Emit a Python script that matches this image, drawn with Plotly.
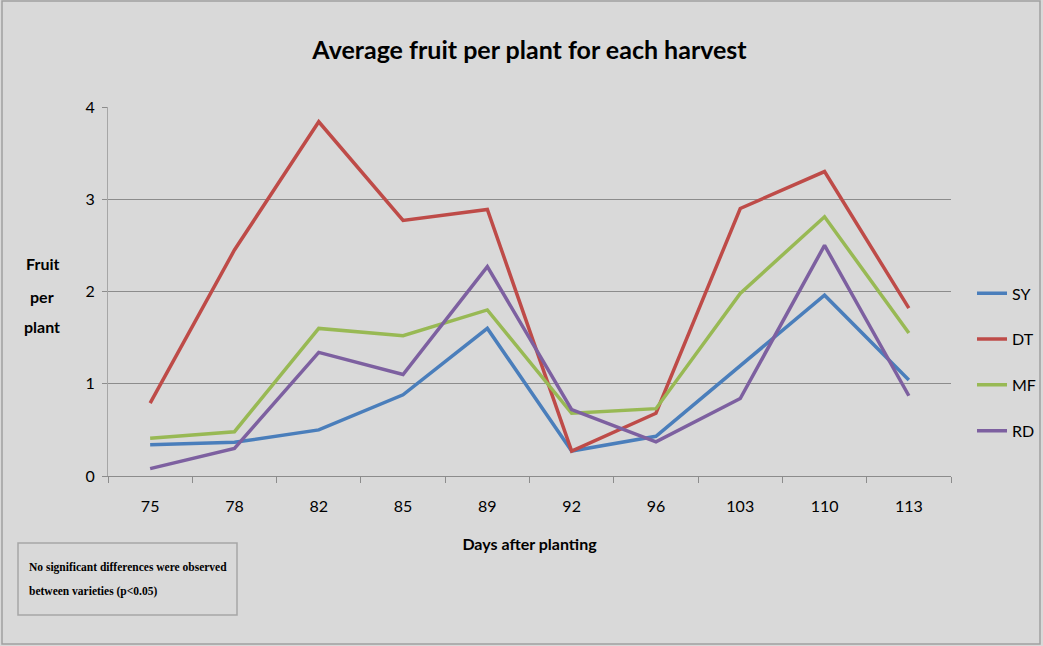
import plotly.graph_objects as go

# Harvest days (category axis) and mean fruit per plant for each variety
days = ["75", "78", "82", "85", "89", "92", "96", "103", "110", "113"]
sy = [0.34, 0.365, 0.50, 0.88, 1.60, 0.27, 0.43, 1.20, 1.96, 1.04]
dt = [0.79, 2.45, 3.84, 2.77, 2.89, 0.27, 0.68, 2.90, 3.30, 1.82]
mf = [0.41, 0.48, 1.60, 1.52, 1.80, 0.68, 0.73, 1.98, 2.81, 1.55]
rd = [0.08, 0.30, 1.34, 1.10, 2.27, 0.72, 0.37, 0.84, 2.50, 0.87]

series = [
    ("SY", sy, "#4a7ebb"),
    ("DT", dt, "#be4b48"),
    ("MF", mf, "#98b954"),
    ("RD", rd, "#7d60a0"),
]

BG = "#d9d9d9"
GRID = "#8c8c8c"
SANS = "Lato, Roboto, sans-serif"
SERIF = "Liberation Serif, Times New Roman, serif"

# plot area in pixels: left 108, right 951, top 107, bottom 476
PX_W, PX_H = 843, 369


def px_x(px):
    return (px - 108) / PX_W


def px_y(py):
    return (476 - py) / PX_H


fig = go.Figure()
for i, (name, vals, color) in enumerate(series):
    fig.add_trace(go.Scatter(
        x=days, y=vals, name=name, mode="lines",
        line=dict(color=color, width=3.5),
        legendgroup=f"g{i}",
    ))

fig.update_layout(
    width=1043, height=646,
    margin=dict(l=108, r=92, t=107, b=170, autoexpand=False),
    paper_bgcolor=BG, plot_bgcolor=BG,
    font=dict(family=SANS, color="#000000", size=15),
    title=dict(
        text="<b>Average fruit per plant for each harvest</b>",
        font=dict(family=SANS, size=25, color="#000000"),
        x=0.5, xanchor="center", xref="paper",
        y=0.922, yanchor="middle",
    ),
    showlegend=True,
    legend=dict(
        x=px_x(972), xanchor="left", y=0.541, yanchor="top",
        bgcolor="rgba(0,0,0,0)",
        font=dict(family=SANS, size=16, color="#000000"),
        traceorder="grouped", tracegroupgap=22,
    ),
    xaxis=dict(
        type="category", range=[-0.5, 9.5],
        showgrid=False, showline=True, linecolor=GRID, linewidth=1,
        ticks="outside", tickson="boundaries", ticklen=6, tickcolor=GRID,
        ticklabelstandoff=16,
        tickfont=dict(family=SANS, size=16, color="#000000"),
        title=dict(text="<b>Days after planting</b>",
                   font=dict(family=SANS, size=16, color="#000000"),
                   standoff=24),
        zeroline=False,
    ),
    yaxis=dict(
        range=[0, 4], dtick=1, showgrid=True, gridcolor=GRID, gridwidth=1,
        showline=True, linecolor="#a6a6a6", linewidth=1,
        ticks="outside", ticklen=5, tickcolor=GRID,
        ticklabelstandoff=4,
        tickfont=dict(family=SANS, size=16, color="#000000"),
        zeroline=False,
    ),
)

# y-axis caption laid out horizontally, one word per line
for word, py in [("Fruit", 263), ("per", 296), ("plant", 326)]:
    fig.add_annotation(
        text=f"<b>{word}</b>",
        xref="paper", yref="paper", x=px_x(42), y=px_y(py),
        xanchor="center", yanchor="middle", showarrow=False,
        font=dict(family=SANS, size=16, color="#000000"),
    )

# note box in the lower-left corner
fig.add_shape(
    type="rect", xref="paper", yref="paper",
    x0=px_x(18), x1=px_x(237), y0=px_y(615), y1=px_y(543),
    line=dict(color="#a6a6a6", width=1.5), fillcolor=BG, layer="above",
)
for line_text, py in [("No significant differences were observed", 567),
                      ("between varieties (p&lt;0.05)", 591)]:
    fig.add_annotation(
        text=f"<b>{line_text}</b>",
        xref="paper", yref="paper", x=px_x(27), y=px_y(py),
        xanchor="left", yanchor="middle", showarrow=False, align="left",
        font=dict(family=SERIF, size=11.5, color="#000000"),
    )

# outer chart frame
fig.add_shape(
    type="rect", xref="paper", yref="paper",
    x0=px_x(2), x1=px_x(1040), y0=px_y(644), y1=px_y(1),
    line=dict(color="#a0a0a0", width=1.5), fillcolor="rgba(0,0,0,0)", layer="below",
)

fig.write_html("out.html")
